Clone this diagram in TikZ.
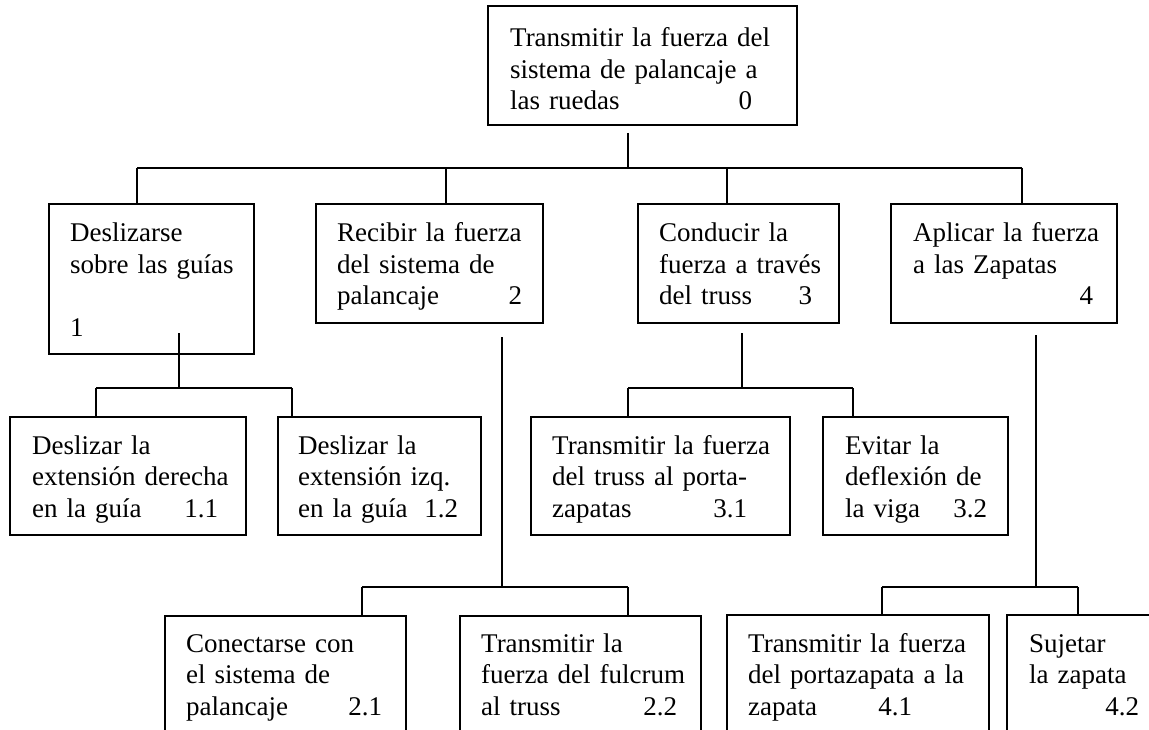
\documentclass[tikz,border=0pt]{standalone}
\usepackage{fontspec}
\setmainfont{Liberation Serif}
\usetikzlibrary{fit}

% last line of a box: text on the left, function number at a tab stop
\newcommand\numline[3]{\makebox[#1pt][l]{#2\hfill #3}}

\begin{document}
\begin{tikzpicture}[x=1pt,y=-1pt,
  fbox/.style={draw, line width=2pt, rectangle, inner sep=0pt},
  txt/.style={anchor=base west, inner sep=0pt, align=left, text width=260pt,
              font=\fontsize{27}{31.5}\selectfont},
  link/.style={line width=2pt}]
\useasboundingbox (0,0) rectangle (1149,730);
\clip (0,0) rectangle (1149,730);
\fill[white] (0,0) rectangle (1149,730);

% ---- boxes ----
\node[fbox, fit={(488,6)(797,125)}] (b0) {};
\node[fbox, fit={(49,204)(254,354)}] (b1) {};
\node[fbox, fit={(316,204)(543,323)}] (b2) {};
\node[fbox, fit={(638,204)(839,323)}] (b3) {};
\node[fbox, fit={(891,204)(1117,323)}] (b4) {};
\node[fbox, fit={(10,417)(246,535)}] (b11) {};
\node[fbox, fit={(278,417)(481,535)}] (b12) {};
\node[fbox, fit={(531,417)(790,535)}] (b31) {};
\node[fbox, fit={(823,417)(1008,535)}] (b32) {};
\node[fbox, fit={(165,616)(406,770)}] (b21) {};
\node[fbox, fit={(460,616)(701,770)}] (b22) {};
\node[fbox, fit={(727,615)(989,770)}] (b41) {};
\node[fbox, fit={(1007,615)(1180,770)}] (b42) {};

% ---- texts ----
\node[txt] (t0) at (510,47) {Transmitir la fuerza del\\sistema de palancaje a\\\numline{242}{las ruedas}{0}};
\node[txt] (t1) at (70,242) {Deslizarse\\sobre las guías\\\mbox{}\\1};
\node[txt] (t2) at (337,242) {Recibir la fuerza\\del sistema de\\\numline{185}{palancaje}{2}};
\node[txt] (t3) at (659,242) {Conducir la\\fuerza a través\\\numline{153}{del truss}{3}};
\node[txt] (t4) at (913,242) {Aplicar la fuerza\\a las Zapatas\\\numline{180}{}{4}};
\node[txt] (t11) at (32,454) {Deslizar la\\extensión derecha\\\numline{186}{en la guía}{1.1}};
\node[txt] (t12) at (298,454) {Deslizar la\\extensión izq.\\\numline{160}{en la guía}{1.2}};
\node[txt] (t31) at (552,454) {Transmitir la fuerza\\del truss al porta-\\\numline{195}{zapatas}{3.1}};
\node[txt] (t32) at (845,454) {Evitar la\\deflexión de\\\numline{142}{la viga}{3.2}};
\node[txt] (t21) at (186,652) {Conectarse con\\el sistema de\\\numline{196}{palancaje}{2.1}};
\node[txt] (t22) at (481,652) {Transmitir la\\fuerza del fulcrum\\\numline{196}{al truss}{2.2}};
\node[txt] (t41) at (748,652) {Transmitir la fuerza\\del portazapata a la\\\numline{164}{zapata}{4.1}};
\node[txt] (t42) at (1029,652) {Sujetar\\la zapata\\\numline{110}{}{4.2}};

% ---- level 0 -> level 1 ----
\coordinate (s0) at (628,133);
\coordinate (m0) at (628,168);
\coordinate (d1) at (137,168);
\coordinate (d2) at (446,168);
\coordinate (d3) at (727,168);
\coordinate (d4) at (1022,168);
\draw[link] (s0) -- (m0);
\draw[link] (d1) -- (d4);
\draw[link] (d1) -- (d1 |- b1.north);
\draw[link] (d2) -- (d2 |- b2.north);
\draw[link] (d3) -- (d3 |- b3.north);
\draw[link] (d4) -- (d4 |- b4.north);

% ---- function 1 ----
\coordinate (s1) at (179,333);
\coordinate (m1) at (179,388);
\coordinate (d11) at (96,388);
\coordinate (d12) at (292,388);
\draw[link] (s1) -- (m1);
\draw[link] (d11) -- (d12);
\draw[link] (d11) -- (d11 |- b11.north);
\draw[link] (d12) -- (d12 |- b12.north);

% ---- function 2 ----
\coordinate (s2) at (502,337);
\coordinate (m2) at (502,587);
\coordinate (d21) at (362,587);
\coordinate (d22) at (628,587);
\draw[link] (s2) -- (m2);
\draw[link] (d21) -- (d22);
\draw[link] (d21) -- (d21 |- b21.north);
\draw[link] (d22) -- (d22 |- b22.north);

% ---- function 3 ----
\coordinate (s3) at (742,333);
\coordinate (m3) at (742,388);
\coordinate (d31) at (628,388);
\coordinate (d32) at (853,388);
\draw[link] (s3) -- (m3);
\draw[link] (d31) -- (d32);
\draw[link] (d31) -- (d31 |- b31.north);
\draw[link] (d32) -- (d32 |- b32.north);

% ---- function 4 ----
\coordinate (s4) at (1036,335);
\coordinate (m4) at (1036,587);
\coordinate (d41) at (882,587);
\coordinate (d42) at (1078,587);
\draw[link] (s4) -- (m4);
\draw[link] (d41) -- (d42);
\draw[link] (d41) -- (d41 |- b41.north);
\draw[link] (d42) -- (d42 |- b42.north);
\end{tikzpicture}
\end{document}
